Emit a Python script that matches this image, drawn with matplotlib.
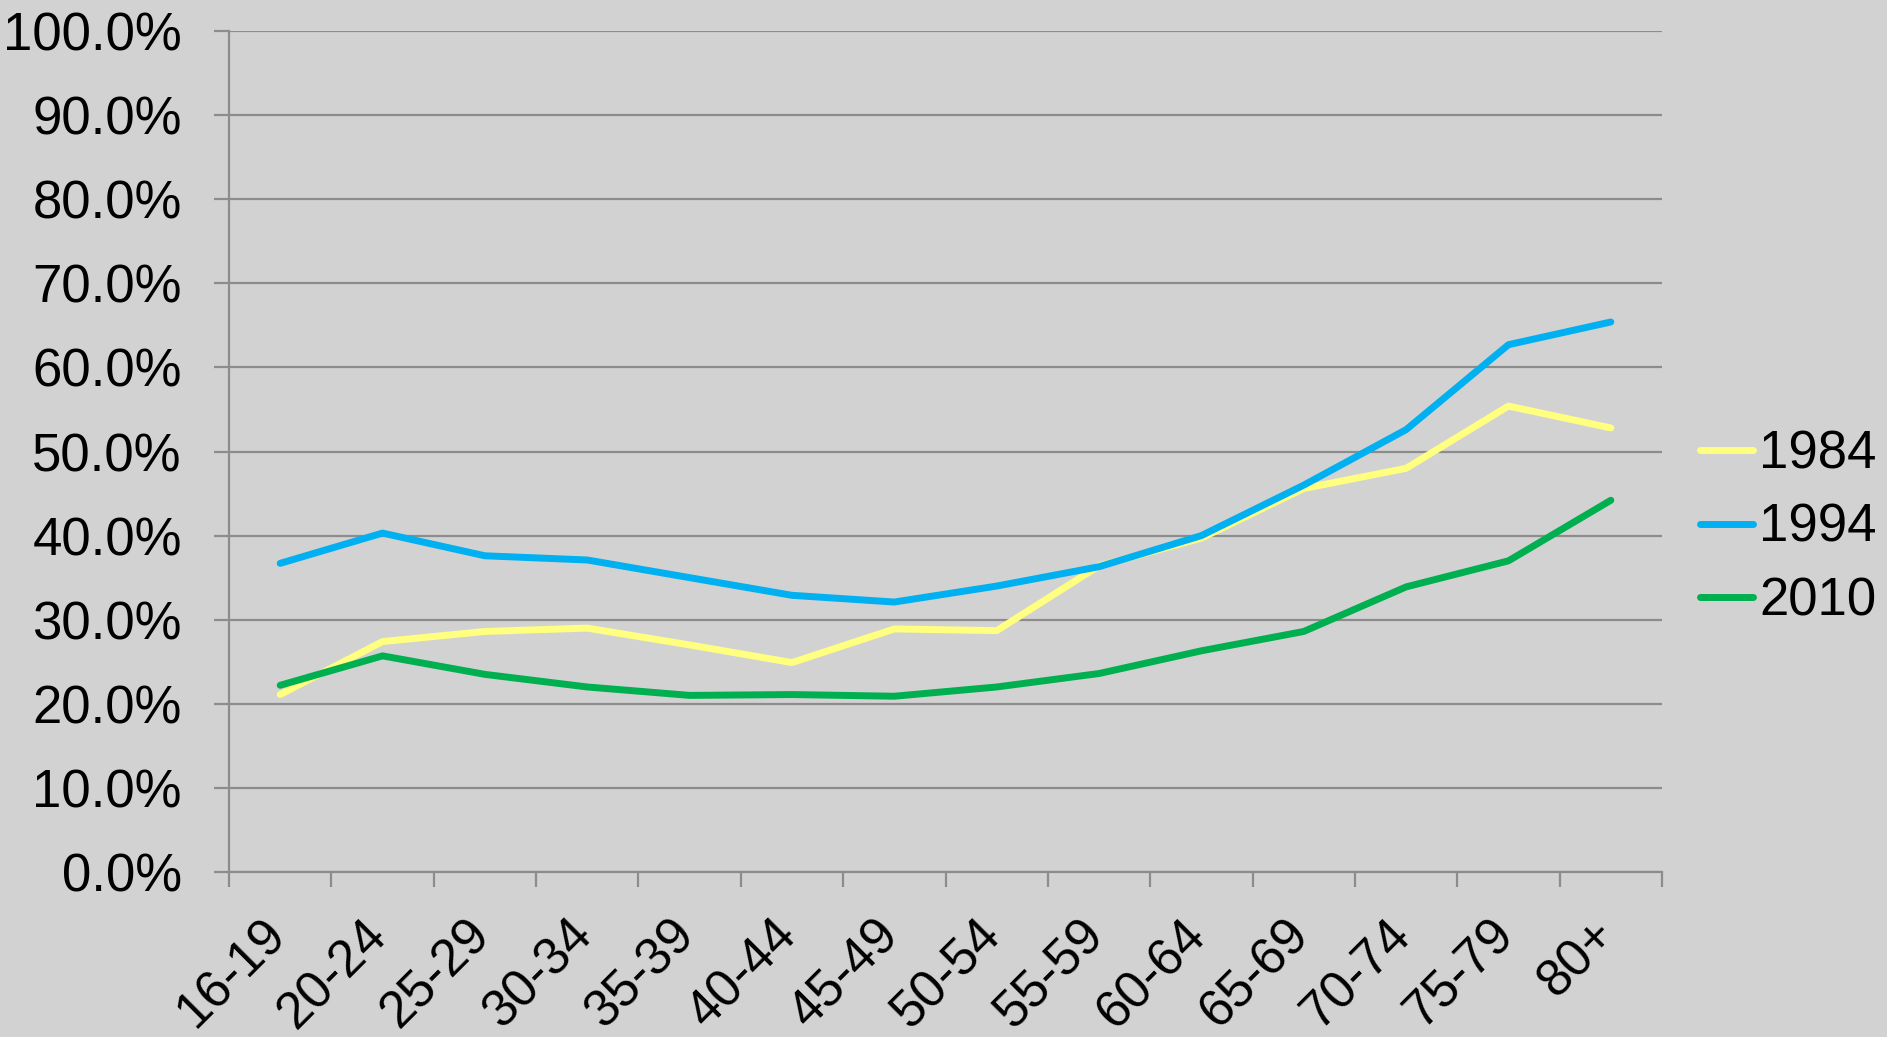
import numpy as np
import matplotlib.pyplot as plt
from matplotlib.ticker import FixedLocator, PercentFormatter
from matplotlib.transforms import ScaledTranslation

plt.rcParams['font.family'] = ['Liberation Sans', 'DejaVu Sans']

ages = ["16-19", "20-24", "25-29", "30-34", "35-39", "40-44", "45-49",
        "50-54", "55-59", "60-64", "65-69", "70-74", "75-79", "80+"]
y1984 = [21.1, 27.4, 28.6, 29.0, 27.0, 24.9, 28.9, 28.7, 36.4, 39.7, 45.6, 48.0, 55.4, 52.8]
y1994 = [36.7, 40.3, 37.6, 37.1, 35.0, 32.9, 32.1, 34.0, 36.3, 40.0, 46.0, 52.6, 62.7, 65.4]
y2010 = [22.2, 25.7, 23.5, 22.0, 21.0, 21.1, 20.9, 22.0, 23.6, 26.3, 28.6, 33.9, 37.0, 44.2]

W, H = 1887, 1037
fig = plt.figure(figsize=(W / 100, H / 100), dpi=100)
fig.patch.set_facecolor('#d2d2d2')

ax = fig.add_axes([229 / W, (H - 872) / H, (1662 - 229) / W, (872 - 31) / H])
ax.set_facecolor('none')

x = np.arange(len(ages))
lw = 5.0
ax.plot(x, y1984, color='#ffff80', lw=lw, label='1984', solid_capstyle='round', zorder=3)
ax.plot(x, y1994, color='#00b0f0', lw=lw, label='1994', solid_capstyle='round', zorder=3)
ax.plot(x, y2010, color='#00b050', lw=lw, label='2010', solid_capstyle='round', zorder=3)

ax.set_xlim(-0.5, len(ages) - 0.5)
ax.set_ylim(0, 100)

grid_c = '#8c8c8c'
ax.set_yticks(np.arange(0, 101, 10))
ax.yaxis.set_major_formatter(PercentFormatter(decimals=1))
ax.grid(axis='y', color=grid_c, lw=1.6, zorder=1)
ax.set_axisbelow(True)

ax.set_xticks(x)
ax.set_xticklabels(ages, rotation=45, ha='right', va='top', rotation_mode='anchor')
ax.xaxis.set_minor_locator(FixedLocator(np.arange(-0.5, len(ages), 1)))
ax.tick_params(axis='x', which='major', length=0, pad=32, labelsize=37)
ax.tick_params(axis='x', which='minor', length=11, width=1.6, color=grid_c)
ax.tick_params(axis='y', length=11, width=1.6, color=grid_c, pad=23, labelsize=38)

# nudge the rotated labels a little left
offset = ScaledTranslation(-20 / 100, 6 / 100, fig.dpi_scale_trans)
for lab in ax.get_xticklabels():
    lab.set_transform(lab.get_transform() + offset)

for s in ['top', 'right']:
    ax.spines[s].set_visible(False)
for s in ['left', 'bottom']:
    ax.spines[s].set_color(grid_c)
    ax.spines[s].set_linewidth(1.6)

leg = ax.legend(loc='center left', bbox_to_anchor=(1700 / W, 1 - 528 / H),
                bbox_transform=fig.transFigure, frameon=False, fontsize=38,
                handlelength=1.0, handletextpad=0.12, labelspacing=0.45,
                borderpad=0, borderaxespad=0)

fig.savefig('out.png', dpi=100, facecolor=fig.get_facecolor())
